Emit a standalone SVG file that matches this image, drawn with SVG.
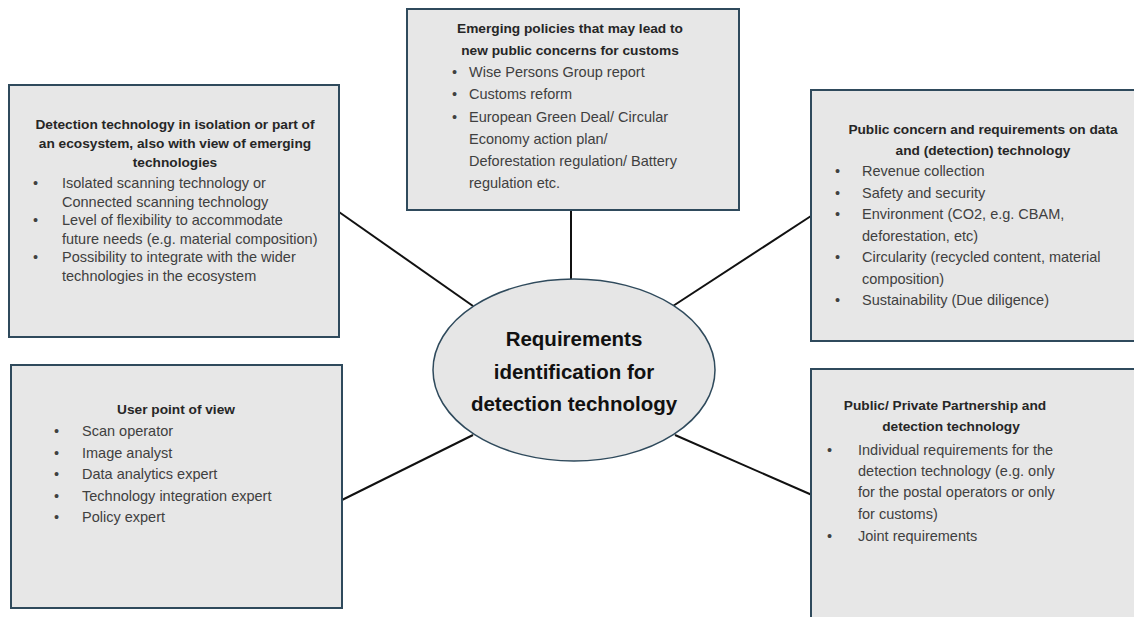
<svg xmlns="http://www.w3.org/2000/svg" width="1134" height="617" viewBox="0 0 1134 617">
<style>
.box{fill:#e7e7e7;stroke:#2f4a5c;stroke-width:2}
.ttl{font-family:"Liberation Sans",Arial,sans-serif;font-weight:bold;font-size:13.7px;fill:#262626;text-anchor:middle}
.bl{font-family:"Liberation Sans",Arial,sans-serif;font-size:14.5px;fill:#404040}
.ctr{font-family:"Liberation Sans",Arial,sans-serif;font-weight:bold;font-size:20.5px;fill:#111;text-anchor:middle}
.con{stroke:#111;stroke-width:2;fill:none}
</style>
<rect width="1134" height="617" fill="#fff"/>
<g id="connectors">
<line class="con" x1="571" y1="210" x2="571" y2="279"/>
<line class="con" x1="339" y1="212" x2="473" y2="306"/>
<line class="con" x1="811" y1="216" x2="673" y2="306"/>
<line class="con" x1="342" y1="500" x2="473" y2="435"/>
<line class="con" x1="812" y1="495" x2="675" y2="435"/>
</g>
<g id="center">
<ellipse cx="574" cy="370" rx="141" ry="91" fill="#e6e6e6" stroke="#2f4a5c" stroke-width="1.5"/>
<text class="ctr" x="574" y="346">Requirements</text>
<text class="ctr" x="574" y="379">identification for</text>
<text class="ctr" x="574" y="411">detection technology</text>
</g>
<g id="box-detection">
<rect class="box" x="9" y="85" width="330" height="252"/>
<text class="ttl" x="175" y="129">Detection technology in isolation or part of</text>
<text class="ttl" x="175" y="148">an ecosystem, also with view of emerging</text>
<text class="ttl" x="175" y="167">technologies</text>
<text class="bl"><tspan x="33" y="188">•</tspan><tspan x="62" y="188">Isolated scanning technology or</tspan>
<tspan x="62" y="206.5">Connected scanning technology</tspan>
<tspan x="33" y="225">•</tspan><tspan x="62" y="225">Level of flexibility to accommodate</tspan>
<tspan x="62" y="243.5">future needs (e.g. material composition)</tspan>
<tspan x="33" y="262">•</tspan><tspan x="62" y="262">Possibility to integrate with the wider</tspan>
<tspan x="62" y="280.5">technologies in the ecosystem</tspan></text>
</g>
<g id="box-policies">
<rect class="box" x="407" y="9" width="332" height="201"/>
<text class="ttl" x="570" y="33">Emerging policies that may lead to</text>
<text class="ttl" x="570" y="55">new public concerns for customs</text>
<text class="bl"><tspan x="452" y="77">•</tspan><tspan x="469" y="77">Wise Persons Group report</tspan>
<tspan x="452" y="99">•</tspan><tspan x="469" y="99">Customs reform</tspan>
<tspan x="452" y="122">•</tspan><tspan x="469" y="122">European Green Deal/ Circular</tspan>
<tspan x="469" y="144">Economy action plan/</tspan>
<tspan x="469" y="166">Deforestation regulation/ Battery</tspan>
<tspan x="469" y="188">regulation etc.</tspan></text>
</g>
<g id="box-public-concern">
<rect class="box" x="811" y="90" width="335" height="251"/>
<text class="ttl" x="983" y="134">Public concern and requirements on data</text>
<text class="ttl" x="983" y="155">and (detection) technology</text>
<text class="bl"><tspan x="835" y="176">•</tspan><tspan x="862" y="176">Revenue collection</tspan>
<tspan x="835" y="197.5">•</tspan><tspan x="862" y="197.5">Safety and security</tspan>
<tspan x="835" y="219">•</tspan><tspan x="862" y="219">Environment (CO2, e.g. CBAM,</tspan>
<tspan x="862" y="240.5">deforestation, etc)</tspan>
<tspan x="835" y="262">•</tspan><tspan x="862" y="262">Circularity (recycled content, material</tspan>
<tspan x="862" y="283.5">composition)</tspan>
<tspan x="835" y="305">•</tspan><tspan x="862" y="305">Sustainability (Due diligence)</tspan></text>
</g>
<g id="box-user">
<rect class="box" x="11" y="365" width="331" height="243"/>
<text class="ttl" x="176" y="414">User point of view</text>
<text class="bl"><tspan x="54" y="436">•</tspan><tspan x="82" y="436">Scan operator</tspan>
<tspan x="54" y="457.5">•</tspan><tspan x="82" y="457.5">Image analyst</tspan>
<tspan x="54" y="479">•</tspan><tspan x="82" y="479">Data analytics expert</tspan>
<tspan x="54" y="500.5">•</tspan><tspan x="82" y="500.5">Technology integration expert</tspan>
<tspan x="54" y="522">•</tspan><tspan x="82" y="522">Policy expert</tspan></text>
</g>
<g id="box-partnership">
<rect class="box" x="811" y="369" width="335" height="260"/>
<text class="ttl" x="945" y="410">Public/ Private Partnership and</text>
<text class="ttl" x="951" y="431">detection technology</text>
<text class="bl"><tspan x="827" y="455">•</tspan><tspan x="858" y="455">Individual requirements for the</tspan>
<tspan x="858" y="476">detection technology (e.g. only</tspan>
<tspan x="858" y="497">for the postal operators or only</tspan>
<tspan x="858" y="519">for customs)</tspan>
<tspan x="827" y="541">•</tspan><tspan x="858" y="541">Joint requirements</tspan></text>
</g>
</svg>
